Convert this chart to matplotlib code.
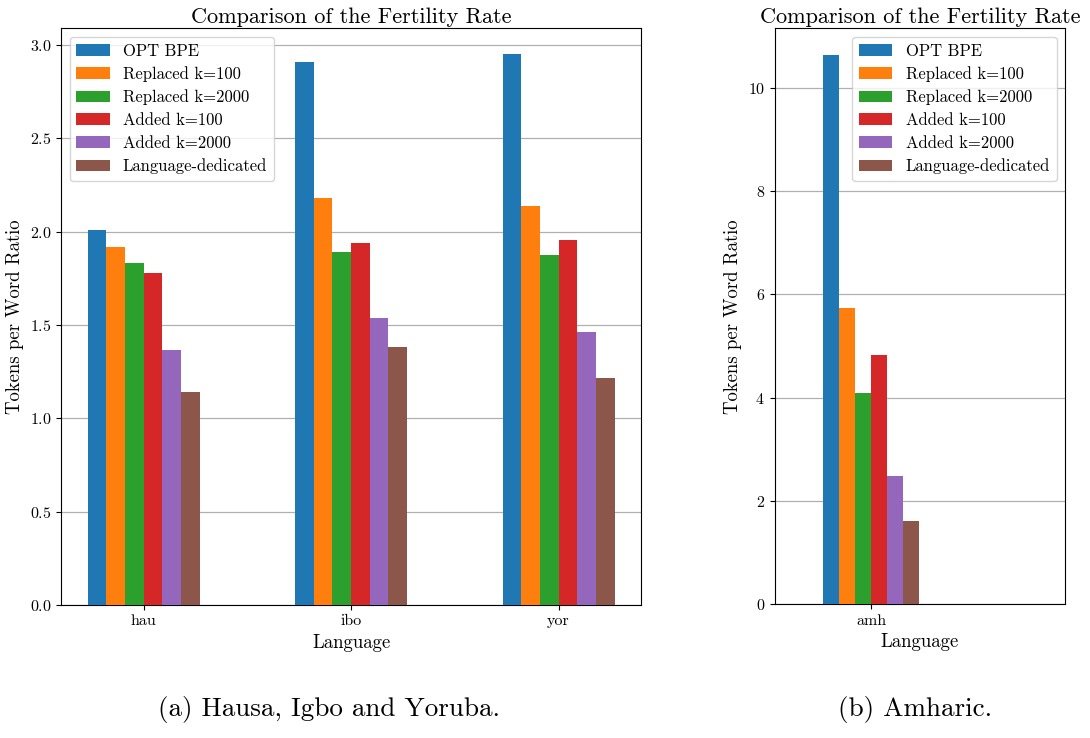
import numpy as np
import matplotlib
matplotlib.use("Agg")
import matplotlib.pyplot as plt

plt.rcParams['font.family'] = ['cmr10', 'DejaVu Serif']
plt.rcParams['mathtext.fontset'] = 'cm'
plt.rcParams['axes.formatter.use_mathtext'] = True
plt.rcParams['axes.unicode_minus'] = False

# Data
series = ["OPT BPE", "Replaced k=100", "Replaced k=2000",
          "Added k=100", "Added k=2000", "Language-dedicated"]
colors = ["#1f77b4", "#ff7f0e", "#2ca02c", "#d62728", "#9467bd", "#8c564b"]

langs_a = ["hau", "ibo", "yor"]
opt_bpe_a = [2.01, 2.91, 2.95]
repl_100_a = [1.92, 2.18, 2.14]
repl_2000_a = [1.83, 1.89, 1.875]
added_100_a = [1.78, 1.94, 1.955]
added_2000_a = [1.365, 1.54, 1.46]
dedicated_a = [1.14, 1.38, 1.215]

langs_b = ["amh"]
opt_bpe_b = [10.63]
repl_100_b = [5.73]
repl_2000_b = [4.09]
added_100_b = [4.83]
added_2000_b = [2.48]
dedicated_b = [1.61]

values_a = [opt_bpe_a, repl_100_a, repl_2000_a, added_100_a, added_2000_a, dedicated_a]
values_b = [opt_bpe_b, repl_100_b, repl_2000_b, added_100_b, added_2000_b, dedicated_b]

width = 0.09


def draw(ax, langs, values, ymax, xlim, legend_loc):
    x = np.arange(len(langs))
    for i, (name, vals) in enumerate(zip(series, values)):
        ax.bar(x + (i - 2.5) * width, vals, width, label=name, color=colors[i], zorder=3)
    ax.set_xticks(x)
    ax.set_xticklabels(langs, fontsize=11.5)
    if xlim is not None:
        ax.set_xlim(*xlim)
    ax.set_ylim(0, ymax)
    ax.yaxis.grid(True, color="#b0b0b0", linewidth=0.9, zorder=0)
    ax.set_axisbelow(True)
    ax.tick_params(axis='y', labelsize=11.5)
    ax.set_xlabel("Language", fontsize=13.5)
    ax.set_ylabel("Tokens per Word Ratio", fontsize=13.5)
    ax.set_title("Comparison of the Fertility Rate", fontsize=16, pad=4)
    ax.legend(loc=legend_loc, fontsize=12, labelspacing=0.45)


fig = plt.figure(figsize=(10.9, 7.38), dpi=100)
ax1 = fig.add_axes([0.0562, 0.1802, 0.5318, 0.7814])
ax2 = fig.add_axes([0.7107, 0.1811, 0.2664, 0.7805])

draw(ax1, langs_a, values_a, 3.089, None, "upper left")
draw(ax2, langs_b, values_b, 11.15, (-0.538, 1.084), "upper right")

fig.text(329 / 1090, 0.030, "(a) Hausa, Igbo and Yoruba.", ha="center", va="baseline", fontsize=19.5)
fig.text(915 / 1090, 0.030, "(b) Amharic.", ha="center", va="baseline", fontsize=19.5)

fig.savefig("out.png", dpi=100)
